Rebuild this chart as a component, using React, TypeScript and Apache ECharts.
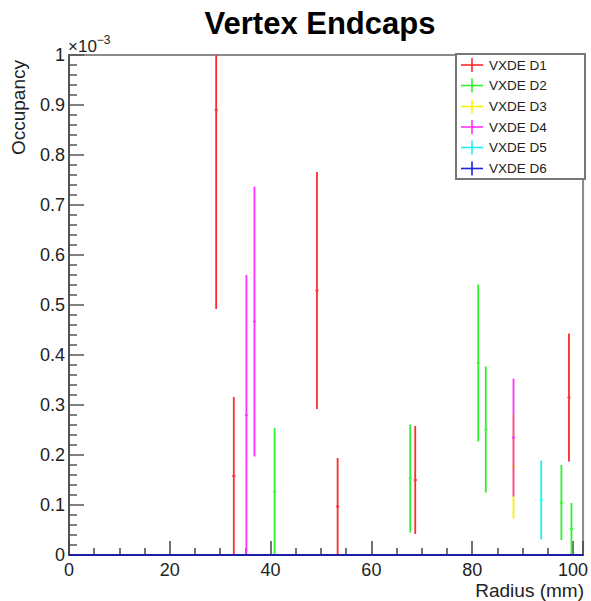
import React, { useEffect, useRef } from "react";
import * as echarts from "echarts";

// x in mm, y in units of 1e-3, e = symmetric error
const d1X = [29.2, 32.7, 49.2, 53.3, 68.7, 99.2];
const d1Y = [0.89, 0.158, 0.529, 0.097, 0.15, 0.315];
const d1E = [0.398, 0.158, 0.237, 0.097, 0.108, 0.128];

const d2X = [40.8, 67.7, 81.2, 82.7, 97.7, 99.7];
const d2Y = [0.127, 0.153, 0.384, 0.251, 0.105, 0.052];
const d2E = [0.127, 0.108, 0.157, 0.126, 0.075, 0.052];

const d3X = [88.2];
const d3Y = [0.177];
const d3E = [0.104];

const d4X = [35.2, 36.8, 88.2];
const d4Y = [0.28, 0.467, 0.235];
const d4E = [0.28, 0.27, 0.118];

const d5X = [93.7];
const d5Y = [0.11];
const d5E = [0.079];

const d6X: number[] = [];
const d6Y: number[] = [];
const d6E: number[] = [];

const seriesNames = ["VXDE D1", "VXDE D2", "VXDE D3", "VXDE D4", "VXDE D5", "VXDE D6"];
const seriesColors = ["#ff2a2a", "#2ef02e", "#f5f500", "#ff30ff", "#20f0f0", "#2020e0"];

const xMin = 0;
const xMax = 102;
const yMin = 0;
const yMax = 1;

const allX = [d1X, d2X, d3X, d4X, d5X, d6X];
const allY = [d1Y, d2Y, d3Y, d4Y, d5Y, d6Y];
const allE = [d1E, d2E, d3E, d4E, d5E, d6E];

export default function App() {
  const ref = useRef<HTMLDivElement>(null);
  useEffect(() => {
    if (!ref.current) return;
    const chart = echarts.init(ref.current, undefined, { renderer: "svg" });

    const errSeries = seriesNames.map((name, si) => ({
      type: "custom",
      name,
      clip: true,
      data: allX[si].map((x, i) => [x, allY[si][i], allE[si][i]]),
      renderItem: (params: any, api: any) => {
        const x = api.value(0);
        const y = api.value(1);
        const e = api.value(2);
        const top = api.coord([x, Math.min(y + e, yMax)]);
        const bot = api.coord([x, Math.max(y - e, yMin)]);
        const c = api.coord([x, y]);
        const col = seriesColors[si];
        return {
          type: "group",
          children: [
            {
              type: "line",
              shape: { x1: top[0], y1: top[1], x2: bot[0], y2: bot[1] },
              style: { stroke: col, lineWidth: 1.8 },
            },
            {
              type: "rect",
              shape: { x: c[0] - 1.5, y: c[1] - 1, width: 3, height: 2 },
              style: { fill: echarts.color.lift(col, -0.35) },
            },
          ],
        };
      },
    }));

    const legendChildren: any[] = [
      {
        type: "rect",
        shape: { x: 456, y: 54, width: 129, height: 125 },
        style: { fill: "#fff", stroke: "#777", lineWidth: 2 },
      },
    ];
    const rowY = [65, 85.5, 106.5, 127, 147.5, 168.5];
    seriesNames.forEach((n, i) => {
      legendChildren.push(
        {
          type: "line",
          shape: { x1: 461, y1: rowY[i], x2: 483, y2: rowY[i] },
          style: { stroke: seriesColors[i], lineWidth: 1.6 },
        },
        {
          type: "line",
          shape: { x1: 472, y1: rowY[i] - 7, x2: 472, y2: rowY[i] + 7 },
          style: { stroke: seriesColors[i], lineWidth: 1.6 },
        },
        {
          type: "text",
          x: 489,
          y: rowY[i],
          style: {
            text: n,
            fill: "#222",
            font: "13.5px 'Liberation Sans', Arial, sans-serif",
            textVerticalAlign: "middle",
            textAlign: "left",
          },
        }
      );
    });

    chart.setOption({
      animation: false,
      textStyle: { fontFamily: "'Liberation Sans', Arial, sans-serif" },
      grid: {
        left: 69,
        right: 7,
        top: 55,
        bottom: 46,
        show: true,
        borderColor: "#8a8a8a",
        borderWidth: 2,
        backgroundColor: "#fff",
      },
      xAxis: {
        type: "value",
        min: xMin,
        max: xMax,
        interval: 20,
        splitLine: { show: false },
        axisLine: { show: true, lineStyle: { color: "#444", width: 2 } },
        axisTick: { show: true, inside: true, length: 14, lineStyle: { color: "#444", width: 1.5 } },
        minorTick: { show: true, splitNumber: 4, length: 7, lineStyle: { color: "#444", width: 1.5 } },
        minorSplitLine: { show: false },
        axisLabel: {
          showMaxLabel: false,
          margin: 6,
          fontSize: 18,
          color: "#222",
          formatter: (v: number) => (v % 20 === 0 ? String(v) : ""),
        },
      },
      yAxis: {
        type: "value",
        min: yMin,
        max: yMax,
        interval: 0.1,
        splitLine: { show: false },
        axisLine: { show: true, lineStyle: { color: "#555", width: 2 } },
        axisTick: { show: true, inside: true, length: 15, lineStyle: { color: "#555", width: 1.5 } },
        minorTick: { show: true, splitNumber: 5, length: 8, lineStyle: { color: "#555", width: 1.5 } },
        axisLabel: {
          margin: 4,
          fontSize: 18,
          color: "#222",
          formatter: (v: number) => (v === 0 ? "0" : Math.abs(v - 1) < 1e-9 ? "1" : v.toFixed(1)),
        },
      },
      series: [
        ...errSeries,
        {
          type: "line",
          name: "VXDE D6 baseline",
          data: [
            [xMin, 0],
            [xMax, 0],
          ],
          symbol: "none",
          lineStyle: { color: "#1c1ca8", width: 2.2 },
          z: 5,
        },
      ],
      graphic: [
        {
          type: "text",
          x: 320,
          y: 23,
          style: {
            text: "Vertex Endcaps",
            font: "bold 31px 'Liberation Sans', Arial, sans-serif",
            fill: "#000",
            textAlign: "center",
            textVerticalAlign: "middle",
          },
        },
        {
          type: "text",
          x: 68,
          y: 46,
          style: {
            text: "×10{sup|−3}",
            font: "17px 'Liberation Sans', Arial, sans-serif",
            fill: "#222",
            textAlign: "left",
            textVerticalAlign: "middle",
            rich: {
              sup: {
                fontSize: 12,
                fill: "#222",
                verticalAlign: "bottom",
                padding: [0, 0, 12, 0],
              },
            },
          },
        },
        {
          type: "text",
          x: 18,
          y: 60,
          rotation: Math.PI / 2,
          style: {
            text: "Occupancy",
            font: "19px 'Liberation Sans', Arial, sans-serif",
            fill: "#222",
            textAlign: "right",
            textVerticalAlign: "middle",
          },
        },
        {
          type: "text",
          x: 584,
          y: 590,
          style: {
            text: "Radius (mm)",
            font: "19px 'Liberation Sans', Arial, sans-serif",
            fill: "#222",
            textAlign: "right",
            textVerticalAlign: "middle",
          },
        },
        { type: "group", children: legendChildren, z: 100 },
      ],
    });
    return () => chart.dispose();
  }, []);
  return <div ref={ref} style={{ width: 591, height: 601, position: "absolute", left: 0, top: 0 }} />;
}
